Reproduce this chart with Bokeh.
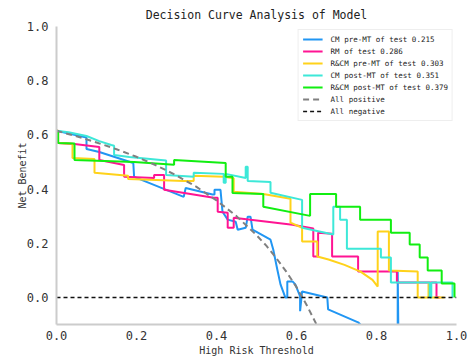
from bokeh.plotting import figure
from bokeh.models import Range1d, FixedTicker, Legend, LegendItem, PrintfTickFormatter
from bokeh.embed import file_html
from bokeh.resources import INLINE

# ---- data ----
thr_cm_pre = [0.0, 0.075, 0.075, 0.107, 0.192, 0.194, 0.318, 0.323, 0.39, 0.395, 0.395, 0.41, 0.415,
              0.428, 0.448, 0.453, 0.473, 0.478, 0.485, 0.49, 0.535, 0.542, 0.552, 0.56, 0.572,
              0.577, 0.577, 0.59, 0.597, 0.609, 0.609, 0.614, 0.677, 0.679, 0.754, 0.78, 0.853, 0.853, 0.856]
nb_cm_pre = [0.615, 0.59, 0.548, 0.537, 0.496, 0.445, 0.371, 0.404, 0.38, 0.38, 0.397, 0.397, 0.316,
             0.287, 0.279, 0.25, 0.257, 0.298, 0.298, 0.25, 0.213, 0.176, 0.103, 0.048, 0.0,
             0.0, 0.059, 0.059, 0.048, 0.004, -0.051, 0.022, 0.0, -0.044, -0.092, -0.13, -0.25, 0.096, -0.3]

thr_rm = [0.0, 0.004, 0.004, 0.045, 0.107, 0.107, 0.169, 0.169, 0.244, 0.244, 0.269, 0.269, 0.393,
          0.403, 0.403, 0.428, 0.428, 0.443, 0.443, 0.59, 0.642, 0.642, 0.654, 0.654, 0.689, 0.689,
          0.754, 0.754, 0.851, 0.851, 0.95, 0.95, 0.96]
nb_rm = [0.615, 0.615, 0.57, 0.566, 0.555, 0.507, 0.489, 0.445, 0.441, 0.452, 0.452, 0.397, 0.368,
         0.368, 0.316, 0.3125, 0.257, 0.257, 0.294, 0.268, 0.254, 0.151, 0.151, 0.239, 0.235, 0.151,
         0.151, 0.096, 0.096, 0.055, 0.055, 0.0, 0.0]

thr_rcm_pre = [0.0, 0.004, 0.004, 0.04, 0.04, 0.095, 0.095, 0.179, 0.179, 0.318, 0.343, 0.343, 0.418,
               0.443, 0.443, 0.517, 0.585, 0.585, 0.614, 0.614, 0.652, 0.652, 0.68, 0.72, 0.76, 0.79,
               0.803, 0.803, 0.831, 0.831, 0.903, 0.903, 0.93, 0.93, 0.935, 0.935, 0.97]
nb_rcm_pre = [0.615, 0.615, 0.57, 0.567, 0.515, 0.511, 0.46, 0.449, 0.4375, 0.43, 0.43, 0.449, 0.445,
              0.44, 0.39, 0.382, 0.364, 0.276, 0.257, 0.206, 0.206, 0.151, 0.14, 0.12, 0.095, 0.065,
              0.04, 0.243, 0.243, 0.099, 0.096, 0.0, 0.0, 0.05, 0.05, 0.0, 0.0]

thr_cm_post = [0.0, 0.03, 0.075, 0.107, 0.137, 0.144, 0.144, 0.182, 0.274, 0.274, 0.343, 0.343, 0.418,
               0.418, 0.423, 0.423, 0.473, 0.473, 0.478, 0.478, 0.535, 0.535, 0.614, 0.614, 0.692,
               0.692, 0.709, 0.709, 0.726, 0.726, 0.811, 0.811, 0.836, 0.836, 0.933, 0.933, 0.937,
               0.937, 0.99, 0.99]
nb_cm_post = [0.615, 0.61, 0.596, 0.577, 0.5625, 0.56, 0.526, 0.518, 0.505, 0.452, 0.445, 0.46, 0.456,
              0.423, 0.423, 0.456, 0.441, 0.482, 0.482, 0.43, 0.426, 0.386, 0.36, 0.257, 0.232,
              0.335, 0.335, 0.287, 0.287, 0.18, 0.18, 0.147, 0.147, 0.055, 0.055, 0.0, 0.0,
              0.055, 0.055, 0.0]

thr_rcm_post = [0.0, 0.004, 0.004, 0.045, 0.045, 0.194, 0.294, 0.294, 0.423, 0.423, 0.44, 0.44, 0.517,
                0.517, 0.634, 0.634, 0.699, 0.699, 0.759, 0.759, 0.836, 0.836, 0.883, 0.883, 0.908,
                0.908, 0.928, 0.928, 0.963, 0.963, 0.995, 0.995]
nb_rcm_post = [0.615, 0.614, 0.57, 0.568, 0.507, 0.5, 0.49, 0.507, 0.496, 0.445, 0.445, 0.385, 0.382,
               0.335, 0.301, 0.382, 0.382, 0.335, 0.335, 0.287, 0.287, 0.239, 0.239, 0.195, 0.195,
               0.147, 0.147, 0.099, 0.099, 0.051, 0.051, 0.0]

thr_all = [0.0, 0.05, 0.1, 0.15, 0.2, 0.25, 0.3, 0.35, 0.4, 0.45, 0.5, 0.525, 0.55, 0.575, 0.6, 0.625, 0.65, 0.66]
nb_all = [0.615, 0.595, 0.572, 0.547, 0.519, 0.487, 0.450, 0.408, 0.358, 0.300, 0.230, 0.19, 0.144, 0.094,
          0.038, -0.027, -0.100, -0.132]

thr_none = [0.0, 1.0]
nb_none = [0.0, 0.0]

labels = ["CM pre-MT of test 0.215", "RM of test 0.286", "R&CM pre-MT of test 0.303",
          "CM post-MT of test 0.351", "R&CM post-MT of test 0.379", "All positive", "All negative"]
ticks = [0.0, 0.2, 0.4, 0.6, 0.8, 1.0]

MONO = "DejaVu Sans Mono"

p = figure(width=468, height=360, output_backend="svg", toolbar_location=None,
           x_range=Range1d(0, 1), y_range=Range1d(-0.1, 1.0),
           min_border_left=56, min_border_right=12, min_border_top=26, min_border_bottom=36,
           title="Decision Curve Analysis of Model")
p.title.align = "center"
p.title.text_font = MONO
p.title.text_font_size = "11.5px"
p.title.text_font_style = "normal"
p.title.text_color = "#222222"
p.title.offset = 0
p.outline_line_color = None
p.grid.visible = False

for ax in (p.xaxis[0], p.yaxis[0]):
    ax.ticker = FixedTicker(ticks=ticks)
    ax.formatter = PrintfTickFormatter(format="%.1f")
    ax.major_tick_line_color = None
    ax.minor_tick_line_color = None
    ax.major_tick_out = 0
    ax.major_tick_in = 0
    ax.minor_tick_out = 0
    ax.axis_line_color = "#cccccc"
    ax.axis_line_width = 2
    ax.major_label_text_font = MONO
    ax.major_label_text_font_size = "12px"
    ax.major_label_text_color = "#333333"
    ax.axis_label_text_font = MONO
    ax.axis_label_text_font_size = "10px"
    ax.axis_label_text_font_style = "normal"
    ax.axis_label_text_color = "#333333"
p.xaxis.major_label_standoff = 6
p.xaxis.axis_label_standoff = 2
p.yaxis.major_label_standoff = 8
p.yaxis.axis_label_standoff = -4
p.xaxis.axis_label = "High Risk Threshold"
p.yaxis.axis_label = "Net Benefit"

colors = ["#2196F3", "#FF1493", "#FFD21A", "#3DE8D8", "#11EE11"]
xs = [thr_cm_pre, thr_rm, thr_rcm_pre, thr_cm_post, thr_rcm_post]
ys = [nb_cm_pre, nb_rm, nb_rcm_pre, nb_cm_post, nb_rcm_post]
renderers = []
for x, y, c in zip(xs, ys, colors):
    renderers.append(p.line(x, y, line_color=c, line_width=2))
renderers.append(p.line(thr_all, nb_all, line_color="#808080", line_width=2, line_dash="6 4"))
renderers.append(p.line(thr_none, nb_none, line_color="#111111", line_width=1.5, line_dash="4 3"))

legend = Legend(items=[LegendItem(label=l, renderers=[r]) for l, r in zip(labels, renderers)],
                location="top_right", margin=3, padding=4, spacing=2,
                label_text_font=MONO, label_text_font_size="7.5px", label_text_color="#222222",
                label_height=10, glyph_height=10, glyph_width=20, label_standoff=8,
                border_line_color="#dddddd", border_line_width=1,
                background_fill_color="white", background_fill_alpha=1)
p.add_layout(legend)

open("out.html", "w").write(file_html(p, INLINE))
